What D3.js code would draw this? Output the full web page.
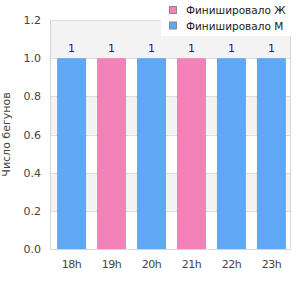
<!DOCTYPE html>
<html>
<head>
<meta charset="utf-8">
<script src="https://cdn.jsdelivr.net/npm/d3@7"></script>
<style>
  body { margin: 0; background: #fff; }
  text { font-family: "DejaVu Sans", sans-serif; }
</style>
</head>
<body>
<svg width="300" height="300"></svg>
<script>
// chart data
var hours = ["18h", "19h", "20h", "21h", "22h", "23h"];
var counts = [1, 1, 1, 1, 1, 1];
var genders = ["M", "F", "M", "F", "M", "M"];
var legendLabels = ["Финишировало Ж", "Финишировало М"];
var legendKeys = ["F", "M"];
var yTicks = [0, 0.2, 0.4, 0.6, 0.8, 1.0, 1.2];

var colors = { F: "#f282b8", M: "#60a8f4" };

var svg = d3.select("svg");
var plotL = 50.5, plotR = 290.5, plotT = 20, plotB = 249;

// bars sit a touch right of centre in the reference
var x = d3.scaleBand().domain(hours).range([plotL + 1, plotR + 1]).paddingInner(0.275).paddingOuter(0.14);
var y = d3.scaleLinear().domain([0, 1.2]).range([plotB, plotT]);

// alternating bands
var bands = [[0.2, 0.4], [0.6, 0.8], [1.0, 1.2]];
svg.selectAll("rect.band")
    .data(bands)
  .enter().append("rect")
    .attr("x", plotL)
    .attr("width", plotR - plotL)
    .attr("y", function(d) { return y(d[1]); })
    .attr("height", function(d) { return y(d[0]) - y(d[1]); })
    .attr("fill", "#f3f3f3");

// grid lines
svg.selectAll("line.grid")
    .data(yTicks)
  .enter().append("line")
    .attr("x1", plotL).attr("x2", plotR)
    .attr("y1", function(d) { return Math.round(y(d)) + 0.5; })
    .attr("y2", function(d) { return Math.round(y(d)) + 0.5; })
    .attr("stroke", "#dddddd");

// frame: left, right, bottom
svg.append("path")
    .attr("d", "M" + plotL + "," + plotT + "V" + (plotB + 0.5) + "H" + plotR + "V" + plotT)
    .attr("fill", "none")
    .attr("stroke", "#d6d6d6");

svg.selectAll("rect.bar")
    .data(hours)
  .enter().append("rect")
    .attr("x", function(d) { return x(d); })
    .attr("width", x.bandwidth())
    .attr("y", function(d, i) { return y(counts[i]); })
    .attr("height", function(d, i) { return y(0) - y(counts[i]); })
    .attr("fill", function(d, i) { return colors[genders[i]]; });

// value labels
svg.selectAll("text.val")
    .data(hours)
  .enter().append("text")
    .attr("x", function(d) { return x(d) + x.bandwidth() / 2; })
    .attr("y", function(d, i) { return y(counts[i]) - 6; })
    .attr("text-anchor", "middle")
    .attr("font-size", 11)
    .attr("fill", "#17177a")
    .text(function(d, i) { return counts[i]; });

// y tick labels
svg.selectAll("text.ytick")
    .data(yTicks)
  .enter().append("text")
    .attr("x", 41)
    .attr("y", function(d) { return y(d) + 4; })
    .attr("text-anchor", "end")
    .attr("font-size", 11)
    .attr("fill", "#444")
    .text(function(d) { return d3.format(".1f")(d); });

// x tick labels
svg.selectAll("text.xtick")
    .data(hours)
  .enter().append("text")
    .attr("x", function(d) { return x(d) + x.bandwidth() / 2; })
    .attr("y", 268)
    .attr("text-anchor", "middle")
    .attr("font-size", 11)
    .attr("letter-spacing", -0.5)
    .attr("fill", "#444")
    .text(function(d) { return d; });

// y axis title
svg.append("text")
    .attr("transform", "translate(10," + ((plotT + plotB) / 2) + ") rotate(-90)")
    .attr("text-anchor", "middle")
    .attr("font-size", 11)
    .attr("fill", "#444")
    .text("Число бегунов");

// legend
svg.append("rect")
    .attr("x", 161).attr("y", 0)
    .attr("width", 139).attr("height", 36)
    .attr("fill", "#fff");

var legend = svg.selectAll("g.legend")
    .data(legendLabels)
  .enter().append("g")
    .attr("transform", function(d, i) { return "translate(169," + (6 + i * 15.5) + ")"; });

legend.append("rect")
    .attr("x", 0.5).attr("y", 0.5)
    .attr("width", 7).attr("height", 7)
    .attr("fill", function(d, i) { return colors[legendKeys[i]]; })
    .attr("stroke", "#888");

legend.append("text")
    .attr("x", 17)
    .attr("y", 8)
    .attr("font-size", 10.5)
    .attr("fill", "#222")
    .text(function(d) { return d; });
</script>
</body>
</html>
